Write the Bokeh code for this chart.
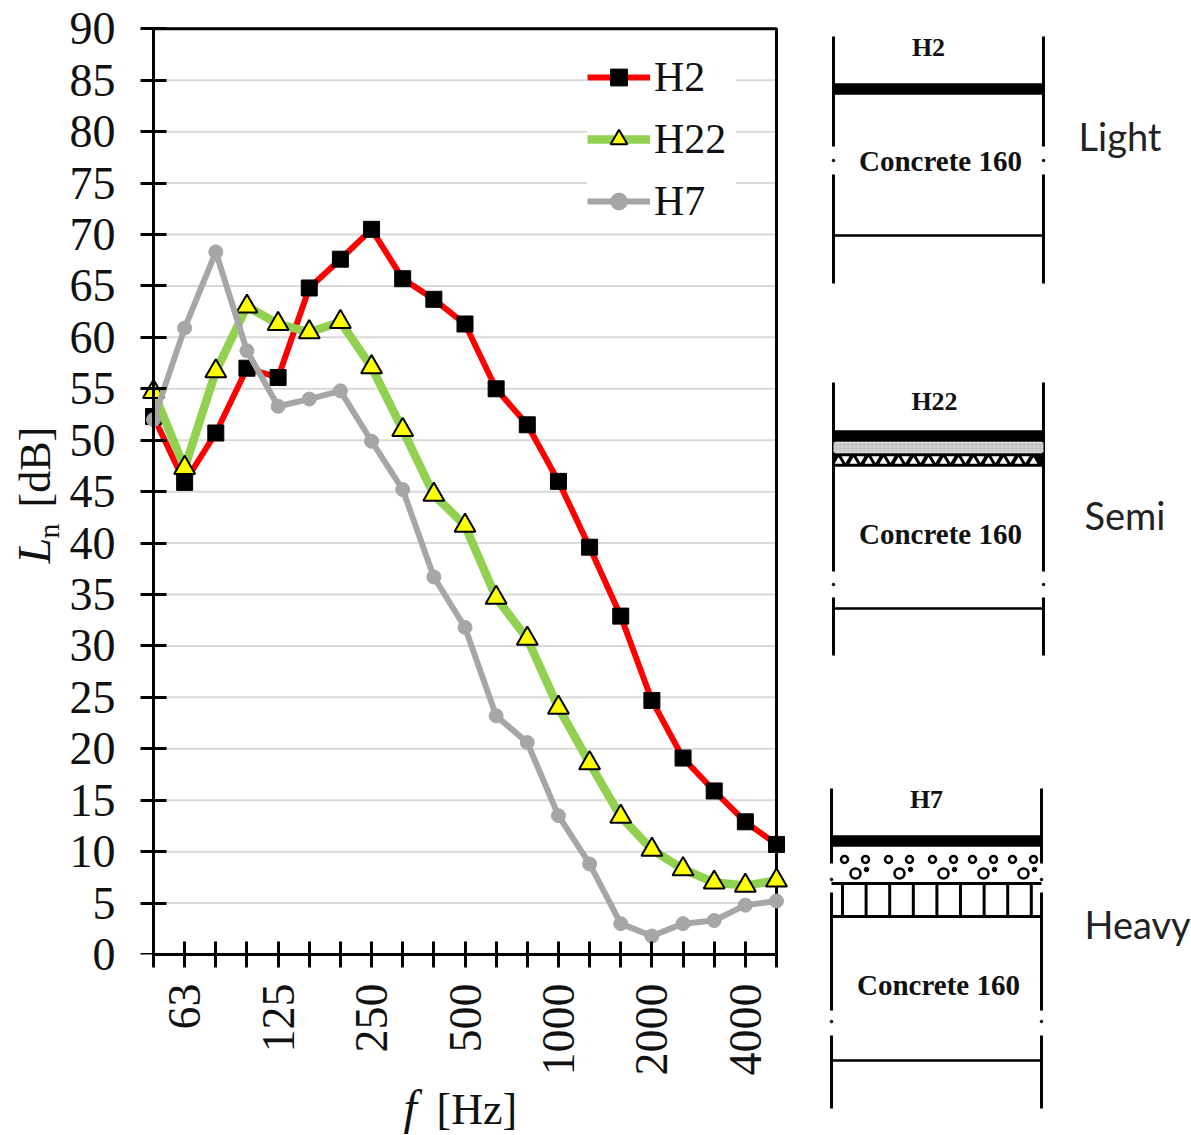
from math import pi
from bokeh.plotting import figure
from bokeh.layouts import row, column
from bokeh.embed import file_html
from bokeh.resources import INLINE
from bokeh.models import Range1d, FixedTicker, Legend, LegendItem, LinearAxis
from bokeh.core.properties import value

frequencies = [50, 63, 80, 100, 125, 160, 200, 250, 315, 400, 500, 630, 800, 1000, 1250, 1600, 2000, 2500, 3150, 4000, 5000]
labelled = [63, 125, 250, 500, 1000, 2000, 4000]
H2 = [52.3, 45.9, 50.7, 57.0, 56.1, 64.8, 67.6, 70.5, 65.7, 63.7, 61.3, 55.0, 51.5, 46.0, 39.6, 32.9, 24.7, 19.1, 15.9, 12.9, 10.7]
H22 = [54.7, 47.3, 56.7, 63.0, 61.3, 60.5, 61.5, 57.1, 51.0, 44.7, 41.7, 34.7, 30.7, 24.0, 18.6, 13.4, 10.2, 8.3, 7.0, 6.7, 7.2]
H7 = [52.0, 60.9, 68.3, 58.7, 53.3, 54.0, 54.8, 49.9, 45.2, 36.7, 31.8, 23.2, 20.6, 13.5, 8.8, 3.0, 1.8, 3.0, 3.3, 4.8, 5.2]

SERIF = "Liberation Serif"
idx = list(range(len(frequencies)))
y_ticks = list(range(0, 95, 5))
W, H = 1191, 1135
FL, FR = 139, 796     # frame left / right in page px

PXX = (776 - 153) / 20
PXY = (954 - 28) / 90
x0, x1 = (FL - 153) / PXX, 20 + (FR - 776) / PXX
y1 = 91.0
p = figure(width=FR, height=H, output_backend="svg", toolbar_location=None,
           x_range=Range1d(x0, x1), y_range=Range1d(0, y1),
           min_border_left=FL, min_border_right=0,
           min_border_top=int(round(954 - y1 * PXY)), min_border_bottom=H - 954)
p.outline_line_color = None
p.background_fill_color = "white"
p.border_fill_color = "white"

p.grid.visible = False
# Grid lines stop at the spines, short of the frame's extra room for markers.
p.segment(x0=[0] * len(y_ticks), x1=[20] * len(y_ticks), y0=y_ticks, y1=y_ticks, line_color="#D9D9D9", line_width=2)

ax = p.xaxis[0]
ax.ticker = FixedTicker(ticks=idx)
ax.bounds = (0, 20)
ax.major_label_overrides = {i: (str(f) if f in labelled else "") for i, f in zip(idx, frequencies)}
ax.major_label_orientation = pi / 2
ax.axis_line_color = "black"
ax.axis_line_width = 3
ax.major_tick_line_color = "black"
ax.major_tick_line_width = 3
ax.minor_tick_line_color = None
ax.major_tick_in = 13
ax.major_tick_out = 13
ax.major_label_text_font = SERIF
ax.major_label_text_font_size = "46px"
ax.major_label_text_color = "#111111"
ax.major_label_standoff = 16

# Labels of the y axis sit in the side panel; the ruled axis itself sits at the first band.
ay = p.yaxis[0]
ay.ticker = FixedTicker(ticks=y_ticks)
ay.bounds = (0, 90)
ay.axis_line_color = None
ay.major_tick_line_color = None
ay.minor_tick_line_color = None
ay.major_tick_in = 0
ay.major_tick_out = 0
ay.major_label_text_font = SERIF
ay.major_label_text_font_size = "46px"
ay.major_label_text_color = "#111111"
ay.major_label_standoff = 24

rule = LinearAxis(fixed_location=0, ticker=FixedTicker(ticks=[], minor_ticks=y_ticks), bounds=(0, 90),
                  axis_line_color="black", axis_line_width=3, minor_tick_line_color="black", minor_tick_line_width=3,
                  major_tick_line_color=None, minor_tick_in=13, minor_tick_out=13, major_tick_in=0, major_tick_out=0,
                  major_label_standoff=0)
p.add_layout(rule, "left")

# Spines on the top and right
p.line([0, 20, 20], [90, 90, 0], line_color="black", line_width=3)

l1 = p.line(idx, H2, line_color="#FF0000", line_width=6)
m1 = p.scatter(idx, H2, marker="square", size=16, fill_color="black", line_color="black")
l2 = p.line(idx, H22, line_color="#92D050", line_width=8.5)
m2 = p.scatter(idx, H22, marker="triangle", size=21, fill_color="#FFFF00", line_color="black", line_width=2)
l3 = p.line(idx, H7, line_color="#A6A6A6", line_width=6)
m3 = p.scatter(idx, H7, marker="circle", size=14, fill_color="#A6A6A6", line_color="#A6A6A6")

legend = Legend(items=[LegendItem(label="H2", renderers=[l1, m1]),
                       LegendItem(label="H22", renderers=[l2, m2]),
                       LegendItem(label="H7", renderers=[l3, m3])],
                location=(588 - FL - 1, 954 - 226), orientation="vertical", background_fill_color="white", background_fill_alpha=1,
                border_line_color=None, glyph_width=63, glyph_height=42, label_standoff=4, spacing=12,
                padding=10, margin=0, label_text_font=SERIF, label_text_font_size="42px", label_text_color="#111111",
                label_height=50, label_width=82)
p.add_layout(legend)

# Transparent sheet over the whole page, in page pixels: axis titles and cross-sections
q = figure(width=W, height=H, output_backend="svg", toolbar_location=None,
           x_range=Range1d(0, W), y_range=Range1d(H, 0), min_border=0)
q.axis.visible = False
q.grid.visible = False
q.outline_line_color = None
q.background_fill_color = None
q.border_fill_color = None

def seg(xa, ya, xb, yb, w=3):
    q.line([xa, xb], [ya, yb], line_color="black", line_width=w)

def txt(t, x, y, font=SERIF, size="26px", style="bold", color="#111111", align="center", angle=0):
    q.text([x], [y], text=[t], text_font=value(font), text_font_size=value(size), text_font_style=style,
           text_color=color, text_align=align, text_baseline="middle", angle=angle)

def walls(xl, xr, y_top, y_brk1, y_brk2, y_bot, y_line, y_dot=None):
    dot = (y_brk1 + y_brk2) / 2 if y_dot is None else y_dot
    for x in (xl, xr):
        seg(x, y_top, x, y_brk1)
        seg(x, y_brk2, x, y_bot)
        q.scatter([x], [dot], marker="circle", size=2.5, color="black")
    seg(xl, y_line, xr, y_line, 2.5)

def slab(xl, xr, ya, yb):
    q.quad(left=[xl], right=[xr], top=[ya], bottom=[yb], fill_color="black", line_color="black", line_width=0.5)

# Axis titles
txt("f", 403, 1107, size="48px", style="italic", align="left")
txt("[Hz]", 436, 1109, size="44px", style="normal", align="left")
txt("L", 34, 563, size="46px", style="italic", align="left", angle=pi / 2)
txt("n", 48, 538, size="30px", style="normal", align="left", angle=pi / 2)
txt("[dB]", 35, 507, size="44px", style="normal", align="left", angle=pi / 2)

CONC = "29px"
SIDE = "38px"
# H2
walls(833, 1043, 36, 146, 174, 283, 235)
slab(833, 1043, 83, 94)
txt("H2", 928, 47)
txt("Concrete 160", 940, 160, size=CONC)
txt("Light", 1078, 135, font="Lato", size=SIDE, style="normal", color="#222222", align="left")

# H22
walls(833, 1043, 382, 571, 597, 655, 608)
slab(833, 1043, 430, 441)
q.quad(left=[833], right=[1043], top=[442], bottom=[452], fill_color="#C4C4C4", line_color=None,
       hatch_pattern="dot", hatch_color="white", hatch_alpha=0.5, hatch_scale=4, hatch_weight=1)
slab(833, 1043, 453, 466)
tri_up = list(range(838, 1042, 15))
tri_dn = list(range(845, 1036, 15))
q.scatter(tri_up, [461] * len(tri_up), marker="triangle", size=8, fill_color="white", line_color=None)
q.scatter(tri_dn, [458] * len(tri_dn), marker="inverted_triangle", size=8, fill_color="white", line_color=None)
txt("H22", 934, 401)
txt("Concrete 160", 940, 533, size=CONC)
txt("Semi", 1084, 514, font="Lato", size=SIDE, style="normal", color="#222222", align="left")

# H7
walls(831, 1041, 788, 863, 892, 1010, 1060, y_dot=879)
seg(831, 1035, 831, 1108)
seg(1041, 1035, 1041, 1108)
q.scatter([831, 1041], [1021, 1021], marker="circle", size=2.5, color="black")
slab(831, 1041, 835, 846)
big = [855, 899, 943, 983, 1023]
q.scatter(big, [873] * 5, marker="circle", size=10, fill_color="white", line_color="black", line_width=2.5)
q.scatter([b + 11 for b in big], [869] * 5, marker="circle", size=4.5, fill_color="black", line_color="black")
q.scatter([b - 11 for b in big], [859] * 5, marker="circle", size=7, fill_color="white", line_color="black", line_width=2.5)
q.scatter([b + 10 for b in big], [859] * 5, marker="circle", size=7, fill_color="white", line_color="black", line_width=2.5)
seg(831, 883, 1041, 883, 3)
seg(831, 916, 1041, 916, 3)
for k in range(9):
    bar_x = 842 + k * 23.6
    seg(bar_x, 883, bar_x, 916, 3)
txt("H7", 926, 799)
txt("Concrete 160", 938, 984, size=CONC)
txt("Heavy", 1084, 923, font="Lato", size=SIDE, style="normal", color="#222222", align="left")

page = row(column(p), column(q, margin=(0, 0, 0, -FR)), spacing=0)
open("out.html", "w").write(file_html(page, INLINE))
